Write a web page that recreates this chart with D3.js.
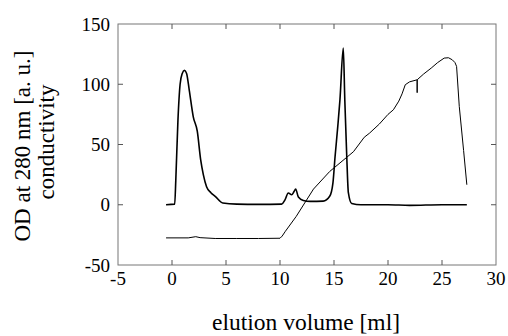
<!DOCTYPE html>
<html>
<head>
<meta charset="utf-8">
<script src="https://cdn.jsdelivr.net/npm/d3@7"></script>
<style>
  body { margin: 0; background: #fff; }
  text { font-family: "Liberation Serif", "DejaVu Serif", serif; fill: #000; }
</style>
</head>
<body>
<div id="chart"></div>
<script>
// OD at 280 nm trace (elution volume in ml, absorbance in a.u.)
var odX = [-0.55, 0.25, 0.35, 0.55, 0.75, 0.95, 1.15, 1.35, 1.6, 1.97, 2.34, 2.66, 2.9, 3.2, 3.6, 4.0, 4.7, 6, 8, 10.15,
           10.46, 10.77, 11.08, 11.3, 11.45, 11.7, 12.16, 12.8, 14.0, 14.6, 14.9, 15.1, 15.35, 15.55, 15.86, 16.0, 16.17,
           16.33, 16.64, 17.5, 20, 22, 25, 27.3];
var odY = [0, 0.5, 20, 70, 100, 109, 111.5, 109, 95, 73, 61, 37, 25, 15, 10, 7, 1.5, 0.5, 0.3, 0.5,
           4, 9.7, 8.3, 11, 13, 6.4, 3.6, 2.8, 3, 7, 18, 40, 65, 87, 130, 87, 43,
           10, 1, 0, 0, -0.5, 0, 0];

// conductivity trace
var condX = [-0.55, 1.5, 2.2, 2.6, 4, 6, 8, 10.0, 10.2, 10.5, 11.5, 13.1, 14.6, 16.8, 17.8, 18.3, 19.2, 20.0, 20.5,
             21.0, 21.3, 21.6, 22.0, 22.7, 22.7, 22.7, 23.3, 24.0, 24.6, 25.2, 25.6, 25.95, 26.2, 26.35, 26.6, 27.0, 27.3];
var condY = [-27.5, -27.5, -26.5, -27.3, -28, -28, -28, -27.8, -26, -22, -9.7, 13, 27.6, 44, 56, 59.5, 67, 75, 78.8,
             86, 92, 99.6, 102, 103.7, 93, 103.7, 108.5, 113.4, 118, 121.7, 122, 120.3, 118, 114.8, 81.6, 45, 16.6];

var xTicks = [-5, 0, 5, 10, 15, 20, 25, 30];
var yTicks = [-50, 0, 50, 100, 150];

var margin = { top: 24, right: 12, bottom: 71, left: 118 },
    width = 508 - margin.left - margin.right,
    height = 336 - margin.top - margin.bottom;

var svg = d3.select("#chart").append("svg")
    .attr("width", 508)
    .attr("height", 336);

var g = svg.append("g")
    .attr("transform", "translate(" + margin.left + "," + margin.top + ")");

var x = d3.scaleLinear().domain([-5, 30]).range([0, width]);
var y = d3.scaleLinear().domain([-50, 150]).range([height, 0]);

// frame
g.append("rect")
    .attr("width", width)
    .attr("height", height)
    .attr("fill", "none")
    .attr("stroke", "#777")
    .attr("stroke-width", 1);

// inward ticks on all four sides, labels only bottom/left
var tl = 5;
var inner = xTicks.filter(function (d) { return d > -5 && d < 30; });
g.selectAll(".xt").data(inner).enter().append("path")
    .attr("stroke", "#555")
    .attr("d", function (d) { return "M" + x(d) + "," + height + "v" + (-tl) + "M" + x(d) + ",0v" + tl; });
var innerY = yTicks.filter(function (d) { return d > -50 && d < 150; });
g.selectAll(".yt").data(innerY).enter().append("path")
    .attr("stroke", "#555")
    .attr("d", function (d) { return "M0," + y(d) + "h" + tl + "M" + width + "," + y(d) + "h" + (-tl); });

g.selectAll(".xl").data(xTicks).enter().append("text")
    .attr("x", function (d) { return x(d); })
    .attr("y", height + 20)
    .attr("text-anchor", "middle")
    .style("font-size", "19px")
    .text(function (d) { return d; });

g.selectAll(".yl").data(yTicks).enter().append("text")
    .attr("x", -8)
    .attr("y", function (d) { return y(d); })
    .attr("dy", "0.35em")
    .attr("text-anchor", "end")
    .style("font-size", "19px")
    .text(function (d) { return d; });

// traces
var odLine = d3.line()
    .x(function (d) { return x(d[0]); })
    .y(function (d) { return y(d[1]); })
    .curve(d3.curveMonotoneX);
var condLine = d3.line()
    .x(function (d) { return x(d[0]); })
    .y(function (d) { return y(d[1]); });

g.append("path")
    .datum(d3.zip(condX, condY))
    .attr("fill", "none")
    .attr("stroke", "#000")
    .attr("stroke-width", 1)
    .attr("d", condLine);

g.append("path")
    .datum(d3.zip(odX, odY))
    .attr("fill", "none")
    .attr("stroke", "#000")
    .attr("stroke-width", 1.6)
    .attr("d", odLine);

// axis titles
svg.append("text")
    .attr("transform", "translate(30,146) rotate(-90)")
    .attr("text-anchor", "middle")
    .style("font-size", "23px")
    .text("OD at 280 nm [a. u.]");
svg.append("text")
    .attr("transform", "translate(54,142) rotate(-90)")
    .attr("text-anchor", "middle")
    .style("font-size", "23px")
    .text("conductivity");

svg.append("text")
    .attr("x", 306)
    .attr("y", 330)
    .attr("text-anchor", "middle")
    .style("font-size", "23.5px")
    .text("elution volume [ml]");
</script>
</body>
</html>
